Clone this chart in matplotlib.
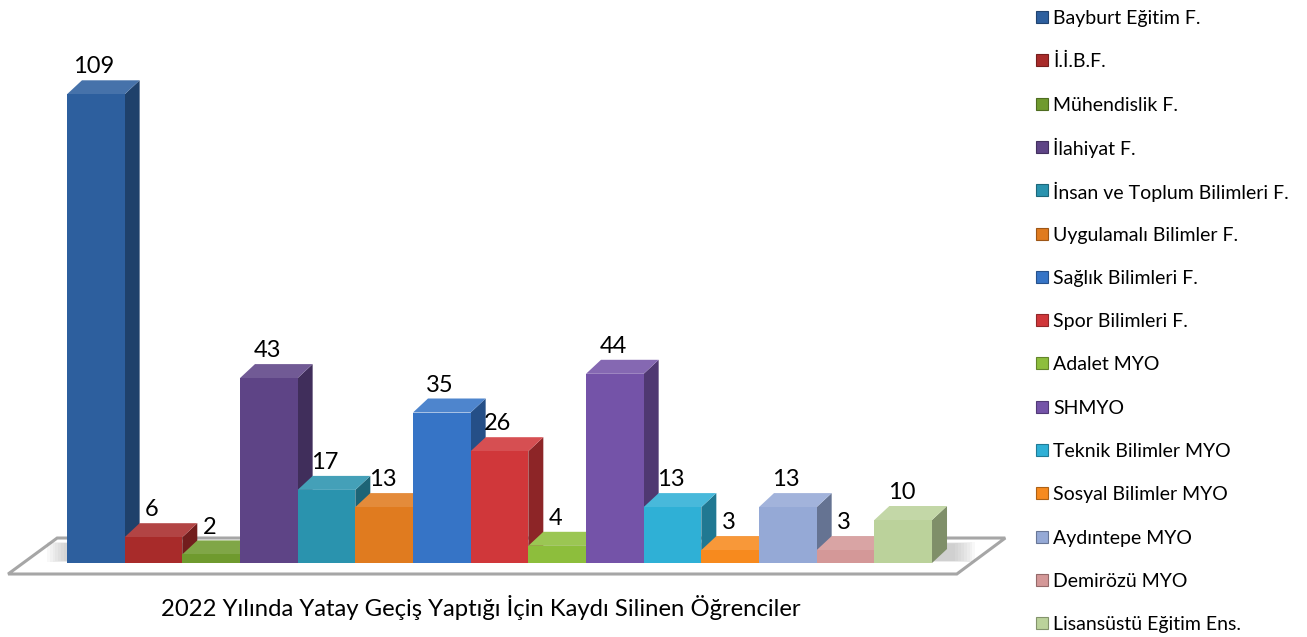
import matplotlib.pyplot as plt
from matplotlib.patches import Polygon, Rectangle
from matplotlib import colors as mcolors
import numpy as np

plt.rcParams['font.family'] = ['Lato', 'DejaVu Sans']

units = ['Bayburt Eğitim F.', 'İ.İ.B.F.', 'Mühendislik F.', 'İlahiyat F.',
         'İnsan ve Toplum Bilimleri F.', 'Uygulamalı Bilimler F.', 'Sağlık Bilimleri F.',
         'Spor Bilimleri F.', 'Adalet MYO', 'SHMYO', 'Teknik Bilimler MYO',
         'Sosyal Bilimler MYO', 'Aydıntepe MYO', 'Demirözü MYO', 'Lisansüstü Eğitim Ens.']
counts = [109, 6, 2, 43, 17, 13, 35, 26, 4, 44, 13, 3, 13, 3, 10]
bar_colors = ['#2D5F9E', '#A82B2A', '#6F9A2E', '#5E4486', '#2A93AE', '#E07B1F',
              '#3674C6', '#D0373A', '#8DBE3C', '#7453A8', '#2FB0D6', '#F78A1E',
              '#95A9D6', '#D49898', '#BBD29B']
title = '2022 Yılında Yatay Geçiş Yaptığı İçin Kaydı Silinen Öğrenciler'

W, H = 1307, 637
fig = plt.figure(figsize=(W / 100, H / 100), dpi=100)
ax = fig.add_axes([0, 0, 1, 1])

# pixel geometry of the reference: bar pitch and value scale
pitch = 57.67
x0_px = 95.8
base_px = 74
scale = 4.3
ax.set_xlim(-x0_px / pitch, (W - x0_px) / pitch)
ax.set_ylim(-base_px / scale, (H - base_px) / scale)
ax.axis('off')

dx = 15 / pitch
dy = 14 / scale
n = len(counts)
x = np.arange(n)


def shade(c, f):
    r = np.array(mcolors.to_rgb(c))
    if f < 1:
        return tuple(r * f)
    return tuple(r + (1 - r) * (f - 1))


# floor
fl = [(-1.52, -2.56), (n - 0.07, -2.56), (n + 0.77, 5.81), (-0.67, 5.81)]
ax.add_patch(Polygon(fl, closed=True, facecolor='white', edgecolor='#A6A6A6',
                     lw=2.2, zorder=1, joinstyle='miter'))

# soft shadow on the floor
for k in range(8):
    g = k * 0.05
    sh = [(-0.85 + g, 0.2 + g), (n - 0.5 + 0.75 - g, 0.2 + g),
          (n - 0.5 + 0.75 - g, dy + 1.6 - g), (-0.85 + g, dy + 1.6 - g)]
    ax.add_patch(Polygon(sh, closed=True, facecolor='#808080', edgecolor='none',
                         alpha=0.05, zorder=2))

for i, (v, c) in enumerate(zip(counts, bar_colors)):
    z = 3 + i
    side = [(i + 0.5, 0), (i + 0.5 + dx, dy), (i + 0.5 + dx, v + dy), (i + 0.5, v)]
    top = [(i - 0.5, v), (i + 0.5, v), (i + 0.5 + dx, v + dy), (i - 0.5 + dx, v + dy)]
    ax.add_patch(Polygon(side, closed=True, facecolor=shade(c, 0.68), edgecolor='none', zorder=z))
    ax.add_patch(Polygon(top, closed=True, facecolor=shade(c, 1.12), edgecolor='none', zorder=z))
    ax.bar(i, v, width=1.0, color=c, edgecolor='none', zorder=z + 0.1)
    ax.text(i - 0.03, v + dy + 1.6, str(v), ha='center', va='baseline',
            fontsize=17, color='#000000', zorder=30)

fig.text(481 / W, 1 - 608 / H, title, ha='center', va='center', fontsize=17.2, color='#000000')

# legend, drawn row by row
row0, row_step = 17, 43.3
for k, (lab, c) in enumerate(zip(units, bar_colors)):
    yc = row0 + k * row_step
    fig.patches.append(Rectangle((1036 / W, 1 - (yc + 6) / H), 12 / W, 12 / H,
                                 transform=fig.transFigure, facecolor=c,
                                 edgecolor=shade(c, 0.7), lw=0.8))
    fig.text(1053 / W, 1 - yc / H, lab, ha='left', va='center_baseline',
             fontsize=14, color='#000000')

fig.savefig('out.png', dpi=100)
